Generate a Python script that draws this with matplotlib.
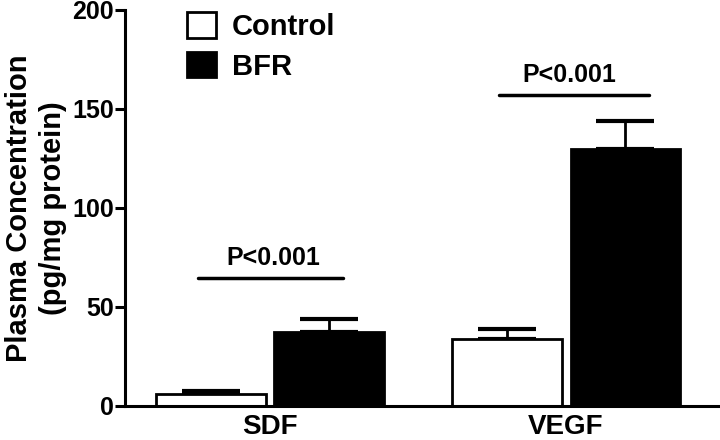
import numpy as np
import matplotlib
matplotlib.use("Agg")
import matplotlib.pyplot as plt

plt.rcParams["font.family"] = ["Liberation Sans", "DejaVu Sans"]
plt.rcParams["font.weight"] = "bold"

groups = ["SDF", "VEGF"]
control = [6.1, 33.8]
control_err = [1.7, 4.9]
bfr = [37.2, 129.6]
bfr_err = [6.7, 14.5]
sig_level = [64.5, 157.0]
sig_text = ["P<0.001", "P<0.001"]

x = np.arange(len(groups))
w = 0.37
off = 0.2

fig = plt.figure(figsize=(7.2, 4.4), dpi=100)
ax = fig.add_axes([0.1736, 0.0773, 0.8264, 0.9])

ax.bar(x - off, control, w, color="white", edgecolor="black", linewidth=2, label="Control", zorder=2)
ax.bar(x + off, bfr, w, color="black", edgecolor="black", linewidth=2, label="BFR", zorder=2)
ax.errorbar(x - off, control, yerr=[np.zeros(2), control_err], fmt="none",
            ecolor="black", elinewidth=2, capsize=21, capthick=3, zorder=1)
ax.errorbar(x + off, bfr, yerr=[np.zeros(2), bfr_err], fmt="none",
            ecolor="black", elinewidth=2, capsize=21, capthick=3, zorder=1)

# significance bars
left_ext = [0.245, 0.225]
right_ext = [0.245, 0.28]
for i in range(len(groups)):
    ax.plot([x[i] - left_ext[i], x[i] + right_ext[i]], [sig_level[i]] * 2,
            color="black", lw=2.5, solid_capstyle="round")
    ax.text(x[i] + 0.01, sig_level[i] + 4, sig_text[i], ha="center", va="bottom",
            fontsize=18, fontweight="bold")

ax.set_xlim(-0.49, 1.52)
ax.set_ylim(0, 200)
ax.set_yticks([0, 50, 100, 150, 200])
ax.set_xticks(x)
ax.set_xticklabels(groups, fontsize=20, fontweight="bold")
ax.tick_params(axis="x", length=0, pad=6)
ax.tick_params(axis="y", labelsize=18, width=2.2, length=7, pad=1)
for lab in ax.get_yticklabels():
    lab.set_fontweight("bold")
ax.spines["top"].set_visible(False)
ax.spines["right"].set_visible(False)
ax.spines["left"].set_linewidth(2.2)
ax.spines["bottom"].set_linewidth(2.2)
ax.set_ylabel("Plasma Concentration\n(pg/mg protein)", fontsize=21, fontweight="bold",
              labelpad=4, linespacing=1.25)

ax.legend(loc="upper left", bbox_to_anchor=(0.06, 1.06), frameon=False,
          handlelength=1.0, handleheight=0.95, handletextpad=0.55, labelspacing=0.38,
          prop={"weight": "bold", "size": 21})

fig.savefig("out.png", dpi=100)
